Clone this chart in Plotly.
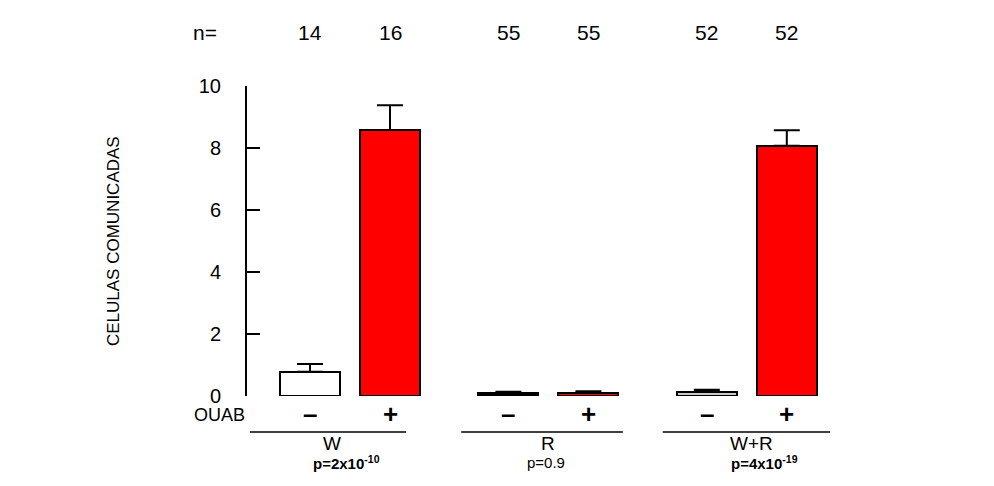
import plotly.graph_objects as go

# ---- data ----
groups = ["W", "R", "W+R"]
ouab = ["–", "+"]
n_values = [14, 16, 55, 55, 52, 52]
means = [0.78, 8.58, 0.09, 0.10, 0.14, 8.07]
errors = [0.25, 0.80, 0.05, 0.05, 0.06, 0.50]
p_labels = ["p=2x10<sup>-10</sup>", "p=0.9", "p=4x10<sup>-19</sup>"]
p_bold = [True, False, True]
y_ticks = [0, 2, 4, 6, 8, 10]
y_title = "CELULAS COMUNICADAS"

# ---- styling / layout ----
fills = ["white", "#ff0000", "black", "#ff0000", "#c8c8c8", "#ff0000"]
FONT = "Liberation Sans, Arial, sans-serif"
GROUP_STEP = 2.48
XMIN, XMAX = -0.7875, 6.6
# bracket extents and label offsets (relative to first bar of each group)
bracket_left = [-0.75, -0.59, -0.55]
bracket_right = [1.2, 1.43, 1.54]
label_off = [0.28, 0.49, 0.56]
p_off = [0.45, 0.47, 0.72]

xs = []
for g in range(len(groups)):
    for c in range(len(ouab)):
        xs.append(g * GROUP_STEP + c)


def xp(x):
    return (x - XMIN) / (XMAX - XMIN)


def label(x, y, text, size, xanchor="center", bold=False, angle=0):
    return dict(x=x, y=y, xref="paper", yref="paper",
                text=("<b>" + text + "</b>") if bold else text,
                showarrow=False, xanchor=xanchor, yanchor="middle", textangle=angle,
                font=dict(size=size, family=FONT, color="black"))


fig = go.Figure()
fig.add_trace(go.Bar(
    x=xs, y=means, width=0.75,
    marker=dict(color=fills, line=dict(color="black", width=2)),
    error_y=dict(type="data", symmetric=False, array=errors,
                 arrayminus=[0] * len(errors),
                 color="black", thickness=2, width=13),
    showlegend=False,
))

ann = []
# n row
ann.append(label(-0.071, 1.171, "n=", 21))
for x, n in zip(xs, n_values):
    ann.append(label(xp(x), 1.171, str(n), 21))
# OUAB row
ann.append(label(0.0, -0.061, "OUAB", 18, xanchor="right"))
for i, x in enumerate(xs):
    ann.append(label(xp(x), -0.058, ouab[i % 2], 26, bold=True))

shapes = []
for g, name in enumerate(groups):
    x0 = g * GROUP_STEP
    shapes.append(dict(type="line", xref="paper", yref="paper",
                       x0=xp(x0 + bracket_left[g]), x1=xp(x0 + bracket_right[g]),
                       y0=-0.116, y1=-0.116, line=dict(color="black", width=1.5)))
    ann.append(label(xp(x0 + label_off[g]), -0.152, name, 19))
    ann.append(label(xp(x0 + p_off[g]), -0.216, p_labels[g], 15, bold=p_bold[g]))

# y title
ann.append(label(-0.2267, 0.5, y_title, 17, angle=-90))

fig.update_layout(
    width=986, height=478,
    margin=dict(l=239, r=156, t=78, b=90),
    paper_bgcolor="white", plot_bgcolor="white",
    bargap=0,
    xaxis=dict(range=[XMIN, XMAX], showticklabels=False, showgrid=False,
               zeroline=False, showline=False, ticks=""),
    yaxis=dict(range=[0, 10], tickvals=y_ticks, showgrid=False, zeroline=False,
               showline=True, linecolor="black", linewidth=2,
               ticks="inside", ticklen=13, tickwidth=2, tickcolor="black",
               ticklabelstandoff=20,
               tickfont=dict(size=20, family=FONT, color="black")),
    annotations=ann, shapes=shapes,
)

fig.write_html("out.html")
